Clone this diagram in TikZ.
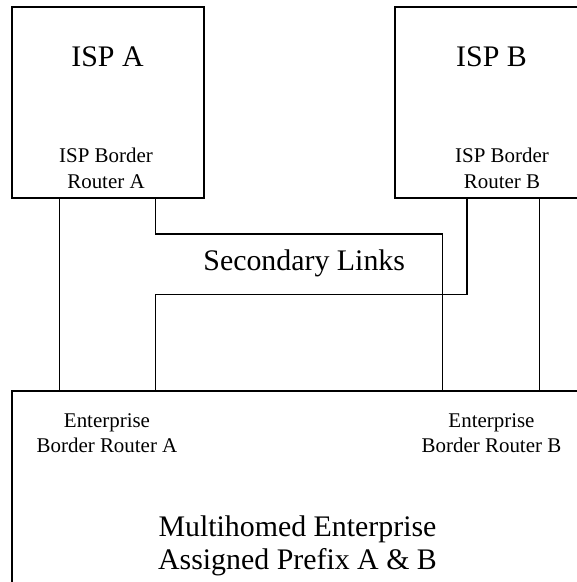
\documentclass[tikz,border=0pt]{standalone}
\usepackage{fontspec}
\setmainfont{Liberation Serif}
\usetikzlibrary{calc}
\begin{document}
\begin{tikzpicture}[x=0.75pt,y=-0.75pt,
  box/.style={draw,line width=1.1pt,rectangle,inner sep=0pt},
  link/.style={draw,line width=1.1pt},
  bigtext/.style={font=\fontsize{22.4pt}{24.2pt}\selectfont,align=center,inner sep=0pt,anchor=base},
  smalltext/.style={font=\fontsize{15.7pt}{19pt}\selectfont,align=center,inner sep=0pt,anchor=base}]
  \useasboundingbox (0,0) rectangle (577,582);
  \clip (0,0) rectangle (577,582);

  % provider and enterprise boxes
  \node[box,minimum width=192*0.75pt,minimum height=191*0.75pt] (ispA) at (108,102.5) {};
  \node[box,minimum width=215*0.75pt,minimum height=191*0.75pt] (ispB) at (502.5,102.5) {};
  \node[box,minimum width=608*0.75pt,minimum height=229*0.75pt] (ent) at (316,505.5) {};

  % labels (base anchor sits on the last line of each label)
  \node[bigtext] (tA) at (107.5,66.7) {ISP A};
  \node[bigtext] (tB) at (491.5,66.7) {ISP B};
  \node[smalltext] (rA) at (106,188) {ISP Border\\Router A};
  \node[smalltext] (rB) at (502,188) {ISP Border\\Router B};
  \node[smalltext] (eA) at (107,452.7) {Enterprise\\Border Router A};
  \node[smalltext] (eB) at (491.5,452.7) {Enterprise\\Border Router B};
  \node[bigtext] (sec) at (304.2,270.7) {Secondary Links};
  \node[bigtext] (mh) at (297.5,569) {Multihomed Enterprise\\Assigned Prefix A \& B};

  % attachment points on the box edges
  \coordinate (a1) at ($(ispA.south west)+(48,0)$);
  \coordinate (a2) at ($(ispA.south west)+(144,0)$);
  \coordinate (b1) at ($(ispB.south west)+(72.7,0)$);
  \coordinate (b2) at ($(ispB.south west)+(145,0)$);
  \coordinate (e1) at ($(ent.north west)+(48,0)$);
  \coordinate (e2) at ($(ent.north west)+(144,0)$);
  \coordinate (e3) at ($(ent.north west)+(431.3,0)$);
  \coordinate (e4) at ($(ent.north west)+(528,0)$);

  % primary links
  \draw[link] (a1) -- (e1);
  \draw[link] (b2) -- (e4);
  % secondary links
  \draw[link] (a2) -- ++(0,35.3) -| (e3);
  \draw[link] (e2) -- ++(0,-96) -| (b1);
\end{tikzpicture}
\end{document}
